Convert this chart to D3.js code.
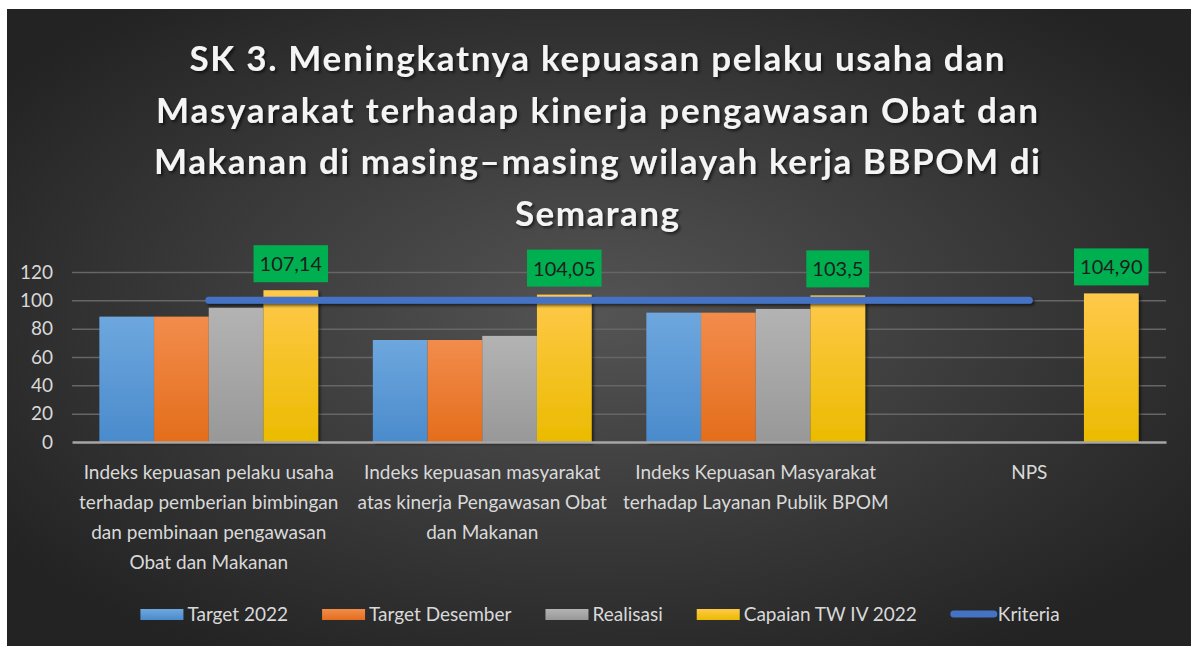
<!DOCTYPE html>
<html>
<head>
<meta charset="utf-8">
<script src="https://cdnjs.cloudflare.com/ajax/libs/d3/7.8.5/d3.min.js"></script>
<style>
    body { margin: 0; background: #fff; }
    svg { display: block; }
    text { font-family: Lato, "Open Sans", sans-serif; }
</style>
</head>
<body>
<svg id="chart" width="1194" height="646"></svg>
<script>
// chart data
var categories = ["c1", "c2", "c3", "c4"];
var categoryLabels = [
    ["Indeks kepuasan pelaku usaha", "terhadap pemberian bimbingan", "dan pembinaan pengawasan", "Obat dan Makanan"],
    ["Indeks kepuasan masyarakat", "atas kinerja Pengawasan Obat", "dan Makanan"],
    ["Indeks Kepuasan Masyarakat", "terhadap Layanan Publik BPOM"],
    ["NPS"]
];
var seriesNames = ["Target 2022", "Target Desember", "Realisasi", "Capaian TW IV 2022"];
var target2022 = [88.5, 72, 91.3, null];
var targetDesember = [88.5, 72, 91.3, null];
var realisasi = [94.8, 74.9, 93.9, null];
var capaian = [107.14, 104.05, 103.5, 104.90];
var capaianLabels = ["107,14", "104,05", "103,5", "104,90"];
var kriteria = [100, 100, 100, 100];
var yTicks = [0, 20, 40, 60, 80, 100, 120];
var titleLines = [
    "SK 3. Meningkatnya kepuasan pelaku usaha dan",
    "Masyarakat terhadap kinerja pengawasan Obat dan",
    "Makanan di masing\u2013masing wilayah kerja BBPOM di",
    "Semarang"
];

var seriesValues = [target2022, targetDesember, realisasi, capaian];
var colors = [
    ["#6ea7de", "#4a8bcc"],
    ["#f28c4c", "#e46d1c"],
    ["#b3b3b3", "#989898"],
    ["#ffc94a", "#ebbb00"]
];

var svg = d3.select("#chart");
var defs = svg.append("defs");

// background gradient
var bg = defs.append("radialGradient").attr("id", "bg")
    .attr("cx", "50%").attr("cy", "48%").attr("r", "62%");
bg.append("stop").attr("offset", "0%").attr("stop-color", "#545454");
bg.append("stop").attr("offset", "100%").attr("stop-color", "#232323");

colors.forEach(function(c, i) {
    var g = defs.append("linearGradient").attr("id", "grad" + i)
        .attr("x1", 0).attr("y1", 0).attr("x2", 0).attr("y2", 1);
    g.append("stop").attr("offset", "0%").attr("stop-color", c[0]);
    g.append("stop").attr("offset", "50%").attr("stop-color", d3.interpolateRgb(c[0], c[1])(0.5));
    g.append("stop").attr("offset", "100%").attr("stop-color", c[1]);
});

// drop shadow (user space so flat shapes like the line still render)
function makeShadow(id) {
    var filter = defs.append("filter").attr("id", id)
        .attr("filterUnits", "userSpaceOnUse")
        .attr("x", 0).attr("y", 0).attr("width", 1194).attr("height", 646);
    filter.append("feGaussianBlur").attr("in", "SourceAlpha").attr("stdDeviation", 1.5).attr("result", "blur");
    filter.append("feOffset").attr("in", "blur").attr("dx", 2).attr("dy", 2).attr("result", "offsetBlur");
    filter.append("feComponentTransfer").attr("in", "offsetBlur").attr("result", "soft")
        .append("feFuncA").attr("type", "linear").attr("slope", 0.6);
    var merge = filter.append("feMerge");
    merge.append("feMergeNode").attr("in", "soft");
    merge.append("feMergeNode").attr("in", "SourceGraphic");
}
makeShadow("shadow");

svg.append("rect")
    .attr("x", 7).attr("y", 9)
    .attr("width", 1184).attr("height", 637)
    .attr("fill", "url(#bg)");

// title
var title = svg.append("g").attr("filter", "url(#shadow)");
var titleWidths = [815, 882, 886, 164];
titleLines.forEach(function(t, i) {
    title.append("text")
        .attr("x", 597)
        .attr("y", 71 + i * 51.5)
        .attr("text-anchor", "middle")
        .attr("fill", "#f4f4f4")
        .attr("font-size", 35)
        .attr("font-weight", "bold")
        .attr("textLength", titleWidths[i])
        .attr("lengthAdjust", "spacing")
        .text(t);
});

// plot area
var plotLeft = 72, plotRight = 1166, plotTop = 272, plotBottom = 442;

var x0 = d3.scaleBand()
    .domain(categories)
    .range([plotLeft, plotRight])
    .paddingInner(0.2)
    .paddingOuter(0.1);

var x1 = d3.scaleBand()
    .domain(seriesNames)
    .range([0, x0.bandwidth()]);

var y = d3.scaleLinear()
    .domain([0, 120])
    .range([plotBottom, plotTop]);

// gridlines
svg.append("g")
    .attr("class", "grid")
    .attr("transform", "translate(" + plotLeft + ",0)")
    .call(d3.axisLeft(y).tickValues(yTicks.slice(1)).tickSize(-(plotRight - plotLeft)).tickFormat(""))
    .call(function(g) { g.select(".domain").remove(); })
    .selectAll("line")
    .attr("stroke", "#666666")
    .attr("stroke-width", 1.5);

// y axis labels
svg.append("g")
    .attr("transform", "translate(" + plotLeft + ",0)")
    .call(d3.axisLeft(y).tickValues(yTicks).tickSize(0).tickPadding(19))
    .call(function(g) { g.select(".domain").remove(); })
    .selectAll("text")
    .attr("fill", "#d9d9d9")
    .attr("font-size", 19)
    .attr("font-family", "Lato, sans-serif");

// bars
var rows = [];
categories.forEach(function(c, ci) {
    seriesNames.forEach(function(s, si) {
        var v = seriesValues[si][ci];
        if (v != null) rows.push({cat: c, series: s, si: si, value: v});
    });
});

svg.append("g")
    .selectAll(".bar")
    .data(rows)
    .enter().append("rect")
    .attr("class", "bar")
    .attr("x", function(d) { return x0(d.cat) + x1(d.series); })
    .attr("y", function(d) { return y(d.value); })
    .attr("width", x1.bandwidth())
    .attr("height", function(d) { return y(0) - y(d.value); })
    .attr("fill", function(d) { return "url(#grad" + d.si + ")"; })
    .style("filter", "url(#shadow)");

// x axis
var xAxis = svg.append("g")
    .attr("transform", "translate(0," + plotBottom + ")")
    .call(d3.axisBottom(x0).tickSize(0).tickFormat(""));
xAxis.select(".domain")
    .attr("stroke", "#a6a6a6")
    .attr("stroke-width", 2.5);

xAxis.selectAll(".tick")
    .each(function(d, i) {
        var t = d3.select(this).append("text")
            .attr("fill", "#d9d9d9")
            .attr("font-size", 19)
            .attr("font-family", "Lato, sans-serif")
            .attr("text-anchor", "middle");
        categoryLabels[i].forEach(function(line, li) {
            t.append("tspan").attr("x", 0).attr("y", 37 + li * 30).text(line);
        });
    });

// kriteria line
var line = d3.line()
    .x(function(d, i) { return x0(categories[i]) + x0.bandwidth() / 2; })
    .y(function(d) { return y(d); });

svg.append("path")
    .datum(kriteria)
    .attr("d", line)
    .attr("fill", "none")
    .attr("stroke", "#4472c4")
    .attr("stroke-width", 7)
    .attr("stroke-linecap", "round")
    .style("filter", "url(#shadow)");

// data labels for capaian
var labels = svg.append("g").selectAll(".lbl")
    .data(capaian)
    .enter().append("g")
    .attr("class", "lbl")
    .attr("transform", function(d, i) {
        var cx = x0(categories[i]) + x1(seriesNames[3]) + x1.bandwidth() / 2;
        return "translate(" + cx + "," + (y(d) - 8) + ")";
    });

labels.append("rect")
    .attr("fill", "#00b050");

labels.append("text")
    .attr("text-anchor", "middle")
    .attr("y", -11)
    .attr("font-size", 20)
    .attr("fill", "#1e1e1e")
    .text(function(d, i) { return capaianLabels[i]; });

labels.each(function() {
    var g = d3.select(this);
    var w = g.select("text").node().getComputedTextLength();
    g.select("rect")
        .attr("x", -w / 2 - 6)
        .attr("y", -37)
        .attr("width", w + 12)
        .attr("height", 37);
});

// legend
var legend = svg.append("g").attr("class", "legend");
var legendItems = seriesNames.concat(["Kriteria"]);
var lx = 0;
legendItems.forEach(function(name, i) {
    var item = legend.append("g").attr("transform", "translate(" + lx + ",0)");
    if (i < 4) {
        item.append("rect")
            .attr("x", 0).attr("y", -5)
            .attr("width", 43).attr("height", 11)
            .attr("fill", "url(#grad" + i + ")");
    } else {
        item.append("line")
            .attr("x1", 3).attr("x2", 43)
            .attr("stroke", "#4472c4")
            .attr("stroke-width", 7)
            .attr("stroke-linecap", "round");
    }
    var t = item.append("text")
        .attr("x", 47)
        .attr("y", 7)
        .attr("font-size", 19)
        .attr("fill", "#d9d9d9")
        .text(name);
    lx += 47 + t.node().getComputedTextLength() + 34;
});
var legendWidth = lx - 34;
legend.attr("transform", "translate(" + (600 - legendWidth / 2) + ",614)");
</script>
</body>
</html>
